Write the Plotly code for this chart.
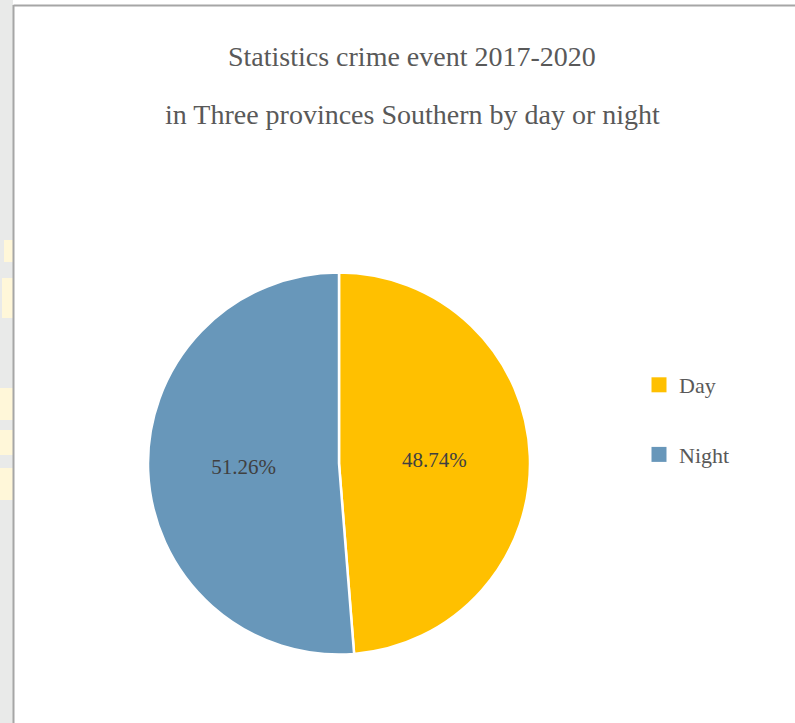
import plotly.graph_objects as go

# Share of crime events by time of day
labels = ["Day", "Night"]
shares = [48.74, 51.26]
colors = ["#FFC000", "#6897BA"]

title_lines = [
    "Statistics crime event 2017-2020",
    "in Three provinces Southern by day or night",
]

W, H = 795, 723
SERIF = "Liberation Serif, Times New Roman, serif"
TEXT = "#595959"

fig = go.Figure()

fig.add_trace(go.Pie(
    labels=labels,
    values=shares,
    marker=dict(colors=colors, line=dict(color="white", width=2.5)),
    sort=False,
    direction="clockwise",
    rotation=0,
    texttemplate="%{percent:.2%}",
    textposition="inside",
    insidetextorientation="horizontal",
    textfont=dict(family=SERIF, size=21, color="#404040"),
    showlegend=False,
    hoverinfo="label+percent",
    domain=dict(x=[148 / W, 530 / W], y=[1 - 655 / H, 1 - 272 / H]),
))

# legend entries (square swatches), one group per category for spacing
for lab, col in zip(labels, colors):
    fig.add_trace(go.Scatter(
        x=[None], y=[None], mode="markers", name=lab, legendgroup=lab,
        marker=dict(symbol="square", size=15, color=col),
        hoverinfo="skip",
    ))

annotations = []
for i, line in enumerate(title_lines):
    annotations.append(dict(
        text=line, x=412 / W, y=1 - (57 + 58 * i) / H,
        xref="paper", yref="paper", xanchor="center", yanchor="middle",
        showarrow=False, font=dict(family=SERIF, size=28, color=TEXT),
    ))


def px_rect(x0, x1, y0, y1, fill):
    return dict(type="rect", xref="paper", yref="paper",
                x0=x0 / W, x1=x1 / W, y0=1 - y1 / H, y1=1 - y0 / H,
                fillcolor=fill, line=dict(width=0), layer="below")


shapes = [
    # page strip to the left of the chart frame, with faint yellow marks
    px_rect(0, 13, 0, H, "#E9EAE9"),
    px_rect(4, 13, 240, 262, "#FFF7D9"),
    px_rect(2, 13, 278, 318, "#FFF7D9"),
    px_rect(0, 13, 388, 420, "#FFF7D9"),
    px_rect(0, 13, 430, 455, "#FFF7D9"),
    px_rect(0, 13, 468, 500, "#FFF7D9"),
    # chart frame
    dict(type="line", xref="paper", yref="paper", x0=13.5 / W, x1=13.5 / W,
         y0=0, y1=1 - 5 / H, line=dict(color="#A6A6A6", width=2)),
    dict(type="line", xref="paper", yref="paper", x0=13.5 / W, x1=1,
         y0=1 - 5.5 / H, y1=1 - 5.5 / H, line=dict(color="#A6A6A6", width=2)),
]

fig.update_layout(
    width=W, height=H,
    margin=dict(l=0, r=0, t=0, b=0),
    paper_bgcolor="white",
    plot_bgcolor="white",
    xaxis=dict(visible=False),
    yaxis=dict(visible=False),
    annotations=annotations,
    shapes=shapes,
    legend=dict(
        x=639 / W, y=1 - 364 / H, xanchor="left", yanchor="top",
        traceorder="grouped", tracegroupgap=38,
        font=dict(family=SERIF, size=22, color=TEXT),
        bgcolor="rgba(0,0,0,0)", itemsizing="trace",
    ),
    showlegend=True,
)

fig.write_html("out.html")
